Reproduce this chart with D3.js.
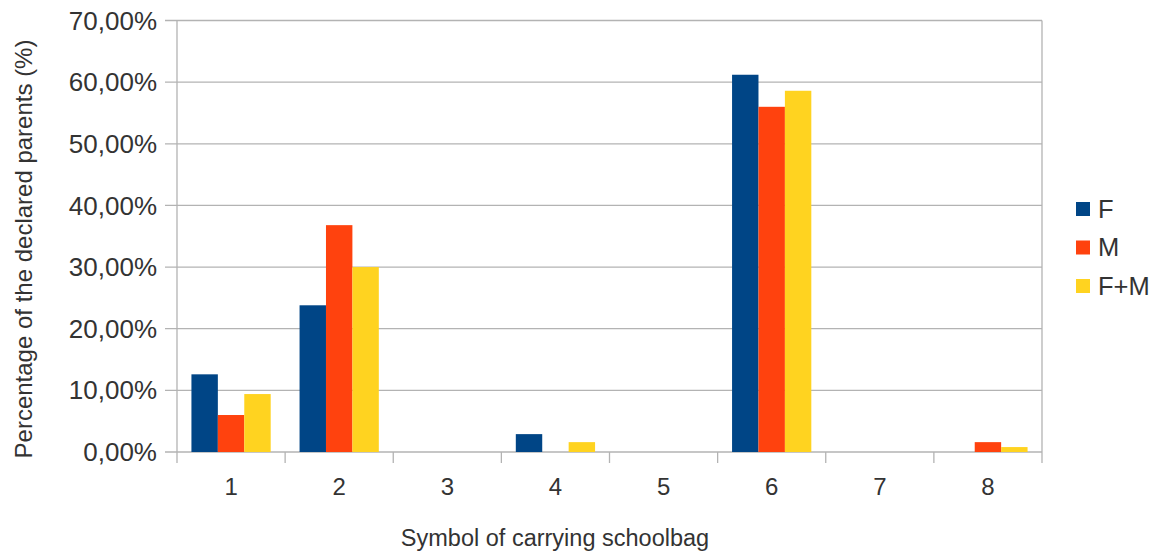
<!DOCTYPE html>
<html><head><meta charset="utf-8">
<script src="https://cdn.jsdelivr.net/npm/d3@7"></script>
<style>body{margin:0;background:#fff;} text{font-family:"Liberation Sans",Arial,sans-serif;fill:#333;}</style>
</head><body>
<svg id="c" width="1167" height="554"></svg>
<script>
const categories = ["1","2","3","4","5","6","7","8"];
const seriesNames = ["F","M","F+M"];
const valuesF  = [12.6, 23.8, 0, 2.9, 0, 61.2, 0, 0];
const valuesM  = [6.0, 36.8, 0, 0, 0, 56.0, 0, 1.6];
const valuesFM = [9.4, 30.0, 0, 1.6, 0, 58.6, 0, 0.8];
const colors = ["#004586","#ff420e","#ffd320"];
const yTicks = [0,10,20,30,40,50,60,70];

const series = [valuesF, valuesM, valuesFM];
const svg = d3.select("#c");
const L = 177, R = 1042, T = 20.5, B = 452;

const x0 = d3.scaleBand().domain(categories).range([L, R]).padding(0);
const gw = x0.bandwidth() * 0.733;
const x1 = d3.scaleBand().domain(seriesNames).range([(x0.bandwidth()-gw)/2, (x0.bandwidth()+gw)/2]).padding(0);
const y = d3.scaleLinear().domain([0,70]).range([B, T]);

// gridlines
svg.append("g").selectAll("line").data(yTicks).join("line")
  .attr("x1", L-12).attr("x2", R).attr("y1", d=>y(d)).attr("y2", d=>y(d))
  .attr("stroke", "#b3b3b3").attr("stroke-width", 1.3);

// bars
categories.forEach((c, ci) => {
  seriesNames.forEach((s, si) => {
    const v = series[si][ci];
    if (v <= 0) return;
    svg.append("rect")
      .attr("x", x0(c) + x1(s)).attr("width", x1.bandwidth())
      .attr("y", y(v)).attr("height", y(0) - y(v))
      .attr("fill", colors[si]);
  });
});

// axis frame lines
svg.append("line").attr("x1", L).attr("x2", L).attr("y1", T).attr("y2", B+11)
  .attr("stroke", "#b3b3b3").attr("stroke-width", 1.3);
svg.append("line").attr("x1", R).attr("x2", R).attr("y1", T).attr("y2", B+11)
  .attr("stroke", "#b3b3b3").attr("stroke-width", 1.3);

// x ticks
const xt = categories.map(c => x0(c)).concat([R]);
svg.append("g").selectAll("line").data(xt.slice(1,-1)).join("line")
  .attr("x1", d=>d).attr("x2", d=>d).attr("y1", B).attr("y2", B+11)
  .attr("stroke", "#b3b3b3").attr("stroke-width", 1.3);

// y tick labels
const fmt = d => d.toFixed(2).replace(".", ",") + "%";
svg.append("g").selectAll("text").data(yTicks).join("text")
  .attr("x", 157).attr("y", d=>y(d)).attr("dy", "0.35em")
  .attr("text-anchor", "end").style("font-size", "26px").text(fmt);

// x tick labels
svg.append("g").selectAll("text").data(categories).join("text")
  .attr("x", d=>x0(d)+x0.bandwidth()/2).attr("y", 487).attr("dy", "0.35em")
  .attr("text-anchor", "middle").style("font-size", "24px").text(d=>d);

// axis titles
svg.append("text").attr("x", 555).attr("y", 538).attr("dy","0.35em")
  .attr("text-anchor","middle").style("font-size","23.5px").text("Symbol of carrying schoolbag");
svg.append("text").attr("transform","translate(24,249) rotate(-90)").attr("dy","0.35em")
  .attr("text-anchor","middle").style("font-size","24px").text("Percentage of the declared parents (%)");

// legend
const lg = svg.append("g");
seriesNames.forEach((s, i) => {
  const cy = 209 + i*38.5;
  lg.append("rect").attr("x", 1076).attr("y", cy-7).attr("width", 14).attr("height", 14).attr("fill", colors[i]);
  lg.append("text").attr("x", 1098).attr("y", cy).attr("dy","0.35em").style("font-size","25.5px").text(s);
});
</script>
</body></html>
